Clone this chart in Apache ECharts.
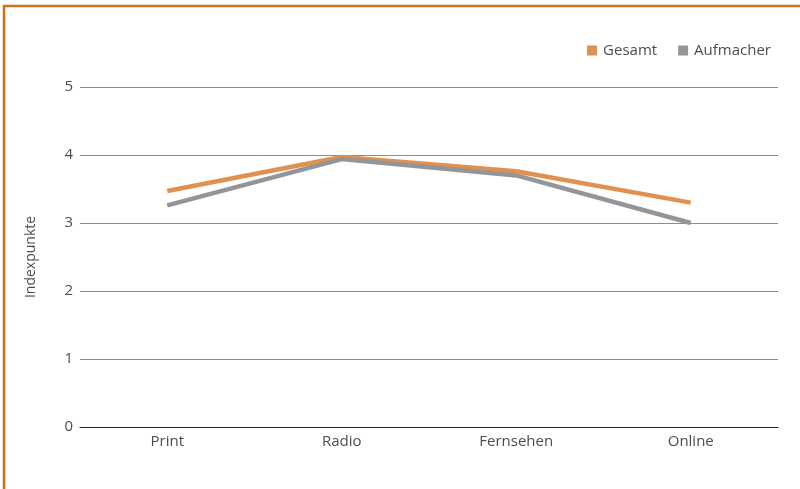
<!DOCTYPE html>
<html>
<head>
<meta charset="utf-8">
<script src="https://cdn.jsdelivr.net/npm/echarts@6/dist/echarts.min.js"></script>
<style>
  html, body { margin: 0; padding: 0; background: #fff; }
  #chart { width: 800px; height: 489px; }
</style>
</head>
<body>
<div id="chart"></div>
<script>
// Categories and values
var categories = ['Print', 'Radio', 'Fernsehen', 'Online'];
var gesamt = [3.47, 3.97, 3.76, 3.30];
var aufmacher = [3.26, 3.94, 3.70, 3.00];
var yTicks = [0, 1, 2, 3, 4, 5];

var FONT = '"Open Sans"';
var TEXT = '#4d4d4d';
var chart = echarts.init(document.getElementById('chart'));

chart.setOption({
  animation: false,
  textStyle: { fontFamily: FONT },
  color: ['#E0914F', '#939598'],
  legend: {
    right: 24,
    top: 38,
    itemWidth: 10,
    itemHeight: 10,
    itemGap: 21,
    icon: 'rect',
    textStyle: { fontFamily: FONT, fontSize: 15, color: TEXT, fontWeight: 400, padding: [0, 0, 0, 1] },
    data: ['Gesamt', 'Aufmacher']
  },
  grid: { left: 80, right: 22, top: 87, bottom: 62 },
  xAxis: {
    type: 'category',
    data: categories,
    boundaryGap: true,
    axisTick: { show: false },
    axisLine: { lineStyle: { color: '#222', width: 1.2 } },
    axisLabel: { fontFamily: FONT, fontSize: 15, color: TEXT, fontWeight: 400, margin: 7 }
  },
  yAxis: {
    type: 'value',
    min: yTicks[0],
    max: yTicks[yTicks.length - 1],
    interval: 1,
    name: 'Indexpunkte',
    nameLocation: 'middle',
    nameGap: 42,
    nameRotate: 90,
    nameTextStyle: { fontFamily: FONT, fontSize: 14, color: TEXT, fontWeight: 400 },
    axisLine: { show: false },
    axisTick: { show: false },
    axisLabel: { fontFamily: FONT, fontSize: 15, color: TEXT, fontWeight: 400, margin: 7 },
    splitLine: { lineStyle: { color: '#8a8c90', width: 1 } }
  },
  series: [
    {
      name: 'Gesamt',
      type: 'line',
      data: gesamt,
      symbol: 'none',
      lineStyle: { width: 4.5, color: '#E0914F' },
      z: 3
    },
    {
      name: 'Aufmacher',
      type: 'line',
      data: aufmacher,
      symbol: 'none',
      lineStyle: { width: 4.5, color: '#939598' },
      z: 4
    }
  ],
  graphic: [
    {
      type: 'polyline',
      shape: { points: [[4, 489], [4, 6], [800, 6]] },
      style: { stroke: '#D4701C', lineWidth: 2.5, fill: null },
      silent: true
    }
  ]
});
</script>
</body>
</html>
